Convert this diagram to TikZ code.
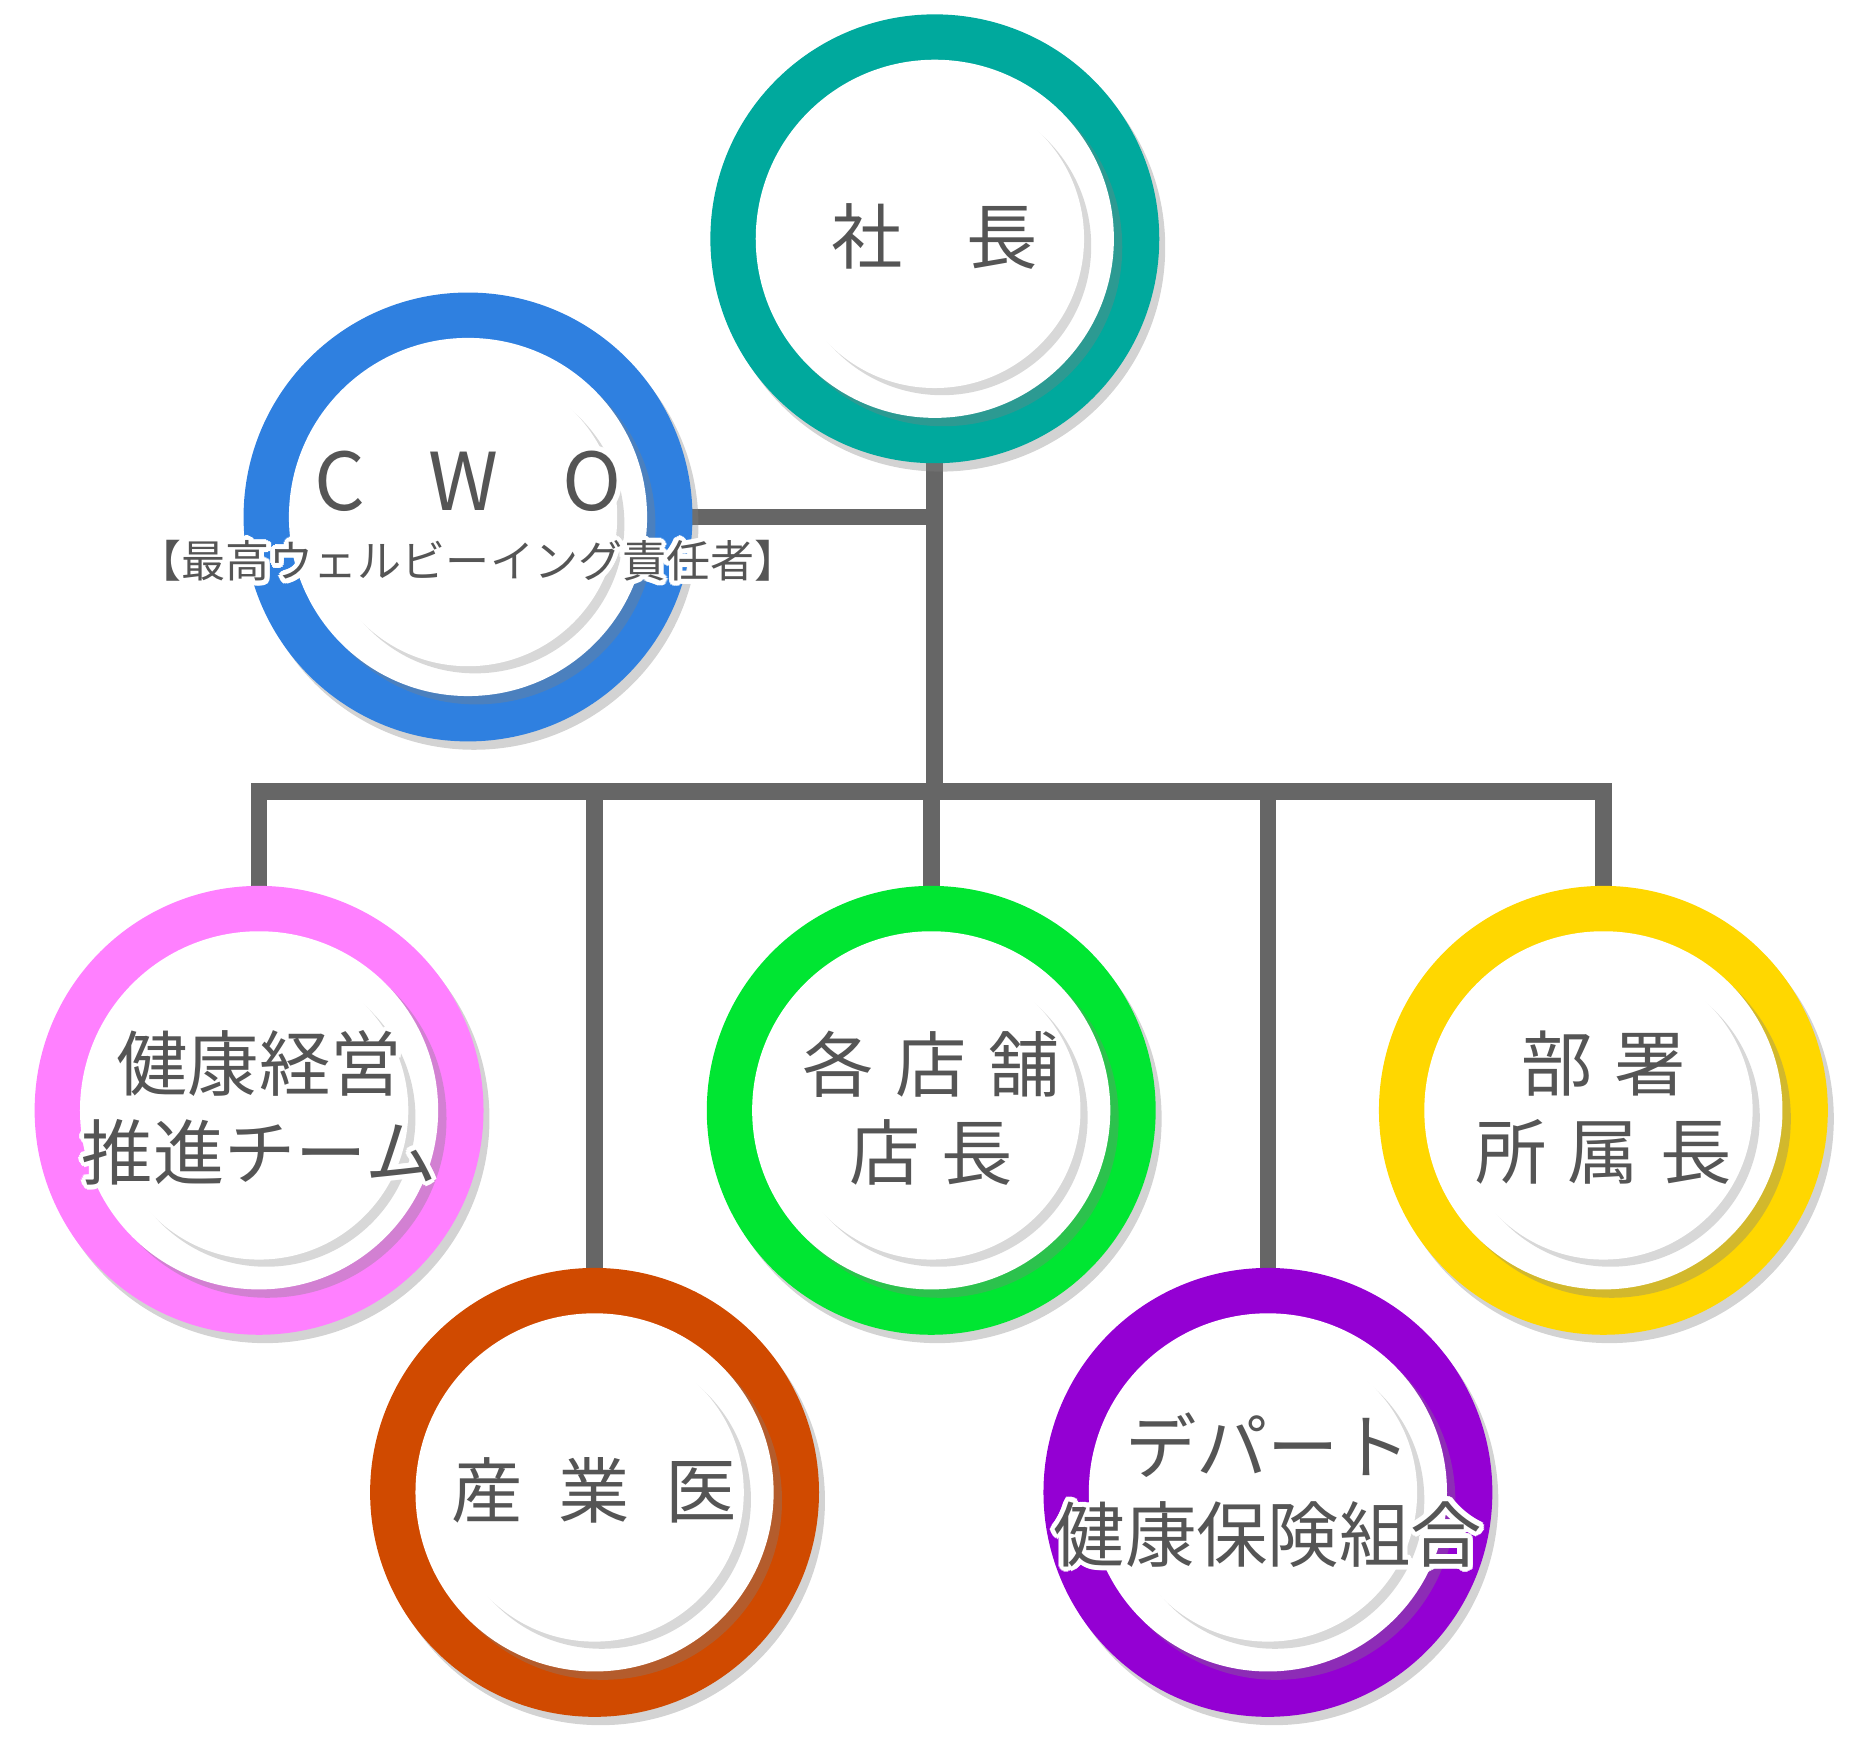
\documentclass[tikz,border=0pt]{standalone}
\usepackage{fontspec}
\newfontfamily\jp{Noto Sans CJK JP}
\usepackage{contour}
\contourlength{1.2pt}
\usetikzlibrary{shadows}
\definecolor{linegray}{HTML}{666666}
\definecolor{txtgray}{HTML}{555555}
\definecolor{cteal}{HTML}{00A99D}
\definecolor{cblue}{HTML}{2F80E0}
\definecolor{cpink}{HTML}{FF80FF}
\definecolor{corange}{HTML}{D04A00}
\definecolor{cgreen}{HTML}{00E632}
\definecolor{cpurple}{HTML}{9400D3}
\definecolor{cyellow}{HTML}{FFD700}
\tikzset{
  ring/.style={circle,minimum size=3.76cm,fill=#1,inner sep=0pt,
    drop shadow={opacity=0.35,shadow xshift=0.05cm,shadow yshift=-0.07cm}},
  disc/.style={circle,minimum size=3.0cm,fill=white,inner sep=0pt,
    drop shadow={opacity=0.35,shadow xshift=0.07cm,shadow yshift=-0.07cm}},
  core/.style={circle,minimum size=2.5cm,fill=white,inner sep=0pt,
    drop shadow={opacity=0.3,shadow xshift=0.06cm,shadow yshift=-0.06cm}},
  label/.style={align=center,text=txtgray,font=\jp\fontsize{17}{21}\selectfont},
  bus/.style={draw=linegray,line width=4pt}
}
\newcommand\orgunit[4]{% name, position, colour, text
  \node (#1) [ring=#3] at (#2) {};
  \node [disc] at (#2) {};
  \node [core] at (#2) {};
  \node (#1t) [label] at (#2) {#4};
}
\begin{document}
\begin{tikzpicture}
\useasboundingbox (0,0) rectangle (15.68,-14.74);
% connectors
\coordinate (top) at (7.83,-3.85);
\coordinate (cwoj) at (7.83,-4.33);
\coordinate (busj) at (7.83,-6.63);
\coordinate (busl) at (2.17,-6.63);
\coordinate (busr) at (13.43,-6.63);
\draw [bus] (top) -- (busj);
\draw [bus] (cwoj) -- (5.7,-4.33) coordinate (cwoe);
\draw [bus,line cap=rect] (busl) -- (busr);
\draw [bus] (busl) -- (2.17,-7.5);
\draw [bus] (4.98,-6.63) -- (4.98,-10.7);
\draw [bus] (7.80,-6.63) -- (7.80,-7.5);
\draw [bus] (10.62,-6.63) -- (10.62,-10.7);
\draw [bus] (busr) -- (13.43,-7.5);
% units
\orgunit{pres}{7.83,-2.0}{cteal}{\contour{white}{社\hspace{0.9em}長}}
\orgunit{cwo}{3.92,-4.33}{cblue}{}
\node (cwot) [label,font=\jp\fontsize{19}{22}\selectfont] at (3.92,-4.05) {\contour{white}{C\hspace{0.8em}W\hspace{0.8em}O}};
\node (cwos) [label,font=\jp\fontsize{10.5}{12}\selectfont] at (3.92,-4.72) {\contour{white}{【最高ウェルビーイング責任者】}};
\orgunit{health}{2.17,-9.3}{cpink}{\contour{white}{健康経営}\\\contour{white}{推進チーム}}
\orgunit{doctor}{4.98,-12.5}{corange}{\contour{white}{産\hspace{0.5em}業\hspace{0.5em}医}}
\orgunit{store}{7.80,-9.3}{cgreen}{\contour{white}{各\hspace{0.3em}店\hspace{0.3em}舗}\\\contour{white}{店\hspace{0.3em}長}}
\orgunit{union}{10.62,-12.5}{cpurple}{\contour{white}{デパート}\\\contour{white}{健康保険組合}}
\orgunit{dept}{13.43,-9.3}{cyellow}{\contour{white}{部\hspace{0.3em}署}\\\contour{white}{所\hspace{0.3em}属\hspace{0.3em}長}}
\end{tikzpicture}
\end{document}
